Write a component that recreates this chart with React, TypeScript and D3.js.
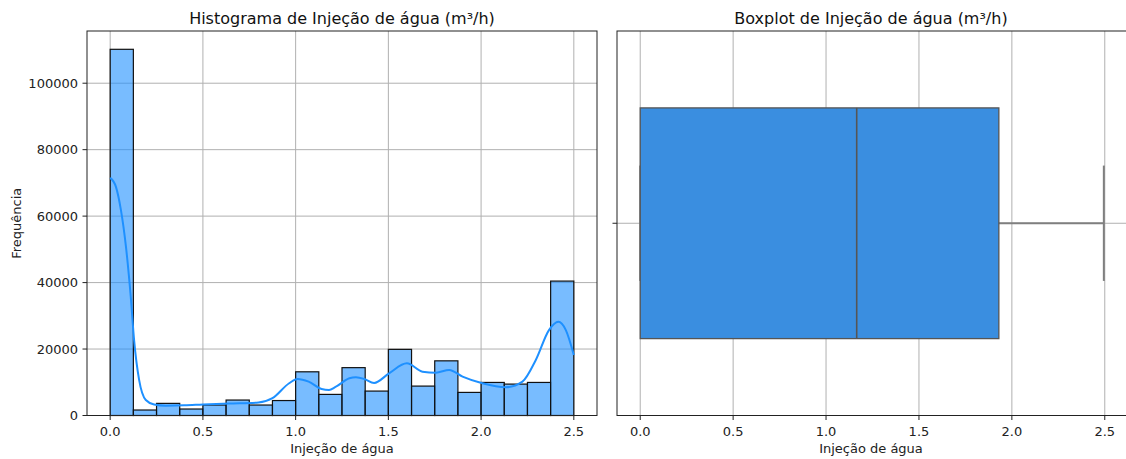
import React from "react";
import * as d3 from "d3";

// ---- data ----
const binLefts = [0, 0.125, 0.25, 0.375, 0.5, 0.625, 0.75, 0.875, 1.0, 1.125, 1.25, 1.375, 1.5, 1.625, 1.75, 1.875, 2.0, 2.125, 2.25, 2.375];
const binWidth = 0.125;
const binCounts = [110200, 1650, 3650, 1950, 3150, 4650, 3150, 4500, 13150, 6350, 14400, 7350, 19900, 8850, 16450, 6950, 9950, 9450, 9950, 40450];

const kdeX = [0, 0.031, 0.058, 0.085, 0.111, 0.129, 0.156, 0.192, 0.237, 0.3, 0.4, 0.5, 0.64, 0.8, 0.875, 0.965, 1.01, 1.07, 1.14, 1.18, 1.215, 1.29, 1.325, 1.37, 1.423, 1.504, 1.6, 1.684, 1.756, 1.828, 1.9, 2.007, 2.133, 2.223, 2.295, 2.366, 2.417, 2.457, 2.5];
const kdeY = [71500, 68800, 61800, 50800, 35700, 22700, 10700, 4650, 3300, 2950, 3050, 3300, 3600, 3900, 5200, 9700, 11000, 10200, 8000, 7700, 8600, 11200, 11500, 11000, 9800, 12700, 15700, 13200, 12900, 13700, 11700, 9700, 8500, 10200, 16700, 25700, 28200, 25700, 18200];

const xTicks = [0, 0.5, 1.0, 1.5, 2.0, 2.5];
const yTicks = [0, 20000, 40000, 60000, 80000, 100000];

const boxStats = { whiskerLow: 0, q1: 0, median: 1.165, q3: 1.93, whiskerHigh: 2.495 };

const titleHist = "Histograma de Injeção de água (m³/h)";
const titleBox = "Boxplot de Injeção de água (m³/h)";
const xLabel = "Injeção de água";
const yLabel = "Frequência";

const FONT = "DejaVu Sans";

export default function App() {
  const W = 1126, H = 459;
  const L = { left: 87, right: 597, top: 31, bottom: 415.5 };
  const R = { left: 617, right: 1128, top: 31, bottom: 415.5 };

  const xL = d3.scaleLinear().domain([-0.125, 2.625]).range([L.left, L.right]);
  const yL = d3.scaleLinear().domain([0, 110200 * 1.05]).range([L.bottom, L.top]);
  const xR = d3.scaleLinear().domain([-0.125, 2.625]).range([R.left, R.right]);
  const yR = d3.scaleLinear().domain([-0.5, 0.5]).range([R.bottom, R.top]);

  const kdeLine = d3
    .line<number>()
    .x((_, i) => xL(kdeX[i]))
    .y((d) => yL(d))
    .curve(d3.curveMonotoneX);

  const grid = "#b0b0b0";
  const tickLen = 4.5;
  const boxHalf = 0.3;
  const capHalf = 0.15;
  const lineCol = "#555555";
  const whiskCol = "#7f7f7f";

  return (
    <svg width={W} height={H} style={{ position: "absolute", left: 0, top: 0, background: "#fff" }} fontFamily={FONT}>
      <rect x={0} y={0} width={W} height={H} fill="#fff" />
      {/* ---------- LEFT: histogram ---------- */}
      <g>
        {xTicks.map((t) => (
          <line key={"gx" + t} x1={xL(t)} x2={xL(t)} y1={L.top} y2={L.bottom} stroke={grid} strokeWidth={1} />
        ))}
        {yTicks.map((t) => (
          <line key={"gy" + t} x1={L.left} x2={L.right} y1={yL(t)} y2={yL(t)} stroke={grid} strokeWidth={1} />
        ))}
        {binCounts.map((c, i) => (
          <rect
            key={"b" + i}
            x={xL(binLefts[i])}
            y={yL(c)}
            width={xL(binLefts[i] + binWidth) - xL(binLefts[i])}
            height={yL(0) - yL(c)}
            fill="rgba(30,144,255,0.6)"
            stroke="#111"
            strokeWidth={1.2}
          />
        ))}
        <path d={kdeLine(kdeY) || ""} fill="none" stroke="#1e90ff" strokeWidth={2} />
        <rect x={L.left} y={L.top} width={L.right - L.left} height={L.bottom - L.top} fill="none" stroke="#222" strokeWidth={1} />
        {xTicks.map((t) => (
          <g key={"tx" + t}>
            <line x1={xL(t)} x2={xL(t)} y1={L.bottom} y2={L.bottom + tickLen} stroke="#222" strokeWidth={1} />
            <text x={xL(t)} y={L.bottom + 20} fontSize={13} textAnchor="middle" fill="#222">
              {t.toFixed(1)}
            </text>
          </g>
        ))}
        {yTicks.map((t) => (
          <g key={"ty" + t}>
            <line x1={L.left - tickLen} x2={L.left} y1={yL(t)} y2={yL(t)} stroke="#222" strokeWidth={1} />
            <text x={L.left - 9} y={yL(t) + 4.5} fontSize={13} textAnchor="end" fill="#222">
              {String(t)}
            </text>
          </g>
        ))}
        <text x={(L.left + L.right) / 2} y={24} fontSize={16} textAnchor="middle" fill="#111">
          {titleHist}
        </text>
        <text x={(L.left + L.right) / 2} y={453} fontSize={13} textAnchor="middle" fill="#222">
          {xLabel}
        </text>
        <text
          transform={`translate(${21},${(L.top + L.bottom) / 2}) rotate(-90)`}
          fontSize={13}
          textAnchor="middle"
          fill="#222"
        >
          {yLabel}
        </text>
      </g>

      {/* ---------- RIGHT: boxplot ---------- */}
      <g>
        {xTicks.map((t) => (
          <line key={"rgx" + t} x1={xR(t)} x2={xR(t)} y1={R.top} y2={R.bottom} stroke={grid} strokeWidth={1} />
        ))}
        <line x1={R.left} x2={R.right} y1={yR(0)} y2={yR(0)} stroke={grid} strokeWidth={1} />
        {/* whiskers */}
        <line x1={xR(boxStats.whiskerLow)} x2={xR(boxStats.q1)} y1={yR(0)} y2={yR(0)} stroke={whiskCol} strokeWidth={1.8} />
        <line x1={xR(boxStats.q3)} x2={xR(boxStats.whiskerHigh)} y1={yR(0)} y2={yR(0)} stroke={whiskCol} strokeWidth={1.8} />
        <line x1={xR(boxStats.whiskerLow)} x2={xR(boxStats.whiskerLow)} y1={yR(capHalf)} y2={yR(-capHalf)} stroke={whiskCol} strokeWidth={2} />
        <line x1={xR(boxStats.whiskerHigh)} x2={xR(boxStats.whiskerHigh)} y1={yR(capHalf)} y2={yR(-capHalf)} stroke={whiskCol} strokeWidth={2} />
        <rect
          x={xR(boxStats.q1)}
          y={yR(boxHalf)}
          width={xR(boxStats.q3) - xR(boxStats.q1)}
          height={yR(-boxHalf) - yR(boxHalf)}
          fill="#3a8ee0"
          stroke={lineCol}
          strokeWidth={1.3}
        />
        <line x1={xR(boxStats.median)} x2={xR(boxStats.median)} y1={yR(boxHalf)} y2={yR(-boxHalf)} stroke={lineCol} strokeWidth={1.6} />
        <rect x={R.left} y={R.top} width={R.right - R.left} height={R.bottom - R.top} fill="none" stroke="#222" strokeWidth={1} />
        <line x1={R.left - tickLen} x2={R.left} y1={yR(0)} y2={yR(0)} stroke="#222" strokeWidth={1} />
        {xTicks.map((t) => (
          <g key={"rtx" + t}>
            <line x1={xR(t)} x2={xR(t)} y1={R.bottom} y2={R.bottom + tickLen} stroke="#222" strokeWidth={1} />
            <text x={xR(t)} y={R.bottom + 20} fontSize={13} textAnchor="middle" fill="#222">
              {t.toFixed(1)}
            </text>
          </g>
        ))}
        <text x={(R.left + 1125) / 2} y={24} fontSize={16} textAnchor="middle" fill="#111">
          {titleBox}
        </text>
        <text x={(R.left + 1125) / 2} y={453} fontSize={13} textAnchor="middle" fill="#222">
          {xLabel}
        </text>
      </g>
    </svg>
  );
}
